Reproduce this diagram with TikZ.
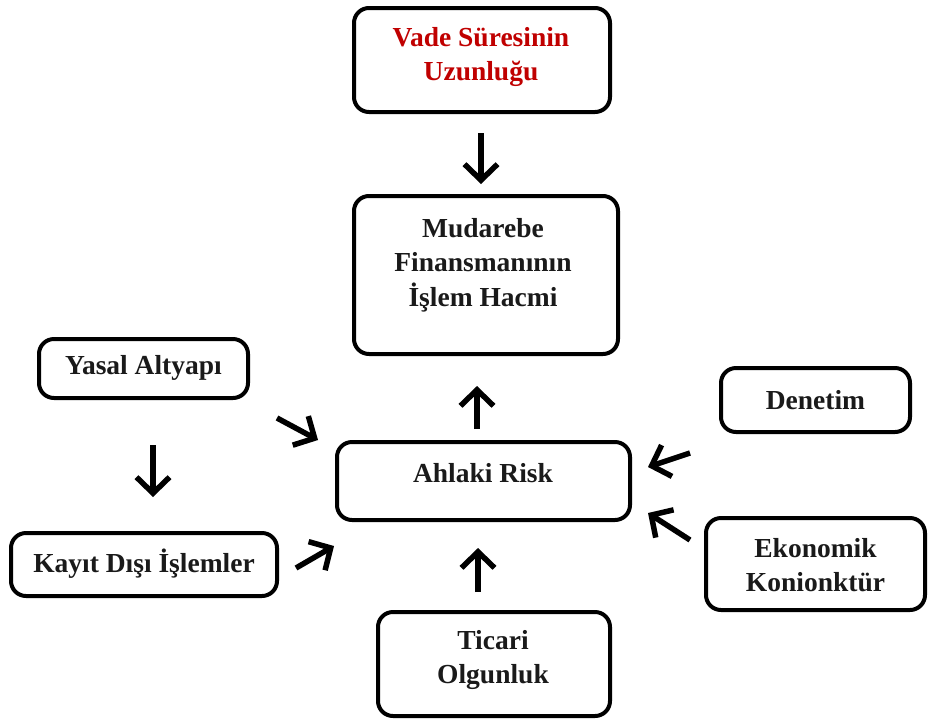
\documentclass[tikz,border=0pt]{standalone}
\usepackage{fontspec}
\setmainfont{Liberation Serif}
\usetikzlibrary{arrows.meta}
\definecolor{vadered}{HTML}{C00000}
\definecolor{ink}{HTML}{1A1A1A}
\begin{document}
\begin{tikzpicture}[x=1pt,y=-1pt,
  box/.style={draw=black, line width=4pt, rounded corners=15pt, inner sep=0pt, fill=white},
  lbl/.style={font=\fontsize{27.5}{34.5}\selectfont\bfseries, align=center, text=ink, inner sep=0pt},
  arr/.style={line width=5.5pt, -{Straight Barb[length=16pt,width=33pt,line width=5.5pt]}}]
\useasboundingbox[fill=white] (0,0) rectangle (929,724);

% boxes
\node[box, minimum width=256pt, minimum height=104pt] (vade) at (482,60) {};
\node[box, minimum width=264pt, minimum height=158pt] (mud) at (486,275) {};
\node[box, minimum width=209pt, minimum height=59pt] (yasal) at (143.5,368.5) {};
\node[box, minimum width=189pt, minimum height=64pt] (denet) at (815.5,400) {};
\node[box, minimum width=293pt, minimum height=78pt] (ahlak) at (483.5,481) {};
\node[box, minimum width=266pt, minimum height=63pt] (kayit) at (144,564.5) {};
\node[box, minimum width=219pt, minimum height=92pt] (ekon) at (815.5,564) {};
\node[box, minimum width=232pt, minimum height=104pt] (ticari) at (494,664) {};

% texts
\node[lbl, text=vadered] (tvade) at (481,57) {Vade Süresinin\\Uzunluğu};
\node[lbl] (tmud) at (483,265) {Mudarebe\\Finansmanının\\İşlem Hacmi};
\node[lbl] (tyasal) at (143.5,368) {Yasal Altyapı};
\node[lbl] (tdenet) at (815.5,400) {Denetim};
\node[lbl] (tahlak) at (483,473) {Ahlaki Risk};
\node[lbl] (tkayit) at (144,564) {Kayıt Dışı İşlemler};
\node[lbl] (tekon) at (815.5,565) {Ekonomik\\Konionktür};
\node[lbl] (tticari) at (493,660) {Ticari\\Olgunluk};

% arrow end points
\coordinate (a1s) at (481,133);  \coordinate (a1e) at (481,184);
\coordinate (a2s) at (477,429);  \coordinate (a2e) at (477,386);
\coordinate (a3s) at (153,445);  \coordinate (a3e) at (153,497);
\coordinate (a4s) at (277,418);  \coordinate (a4e) at (318,440);
\coordinate (a5s) at (296,568);  \coordinate (a5e) at (334,546);
\coordinate (a6s) at (690,453);  \coordinate (a6e) at (648,467);
\coordinate (a7s) at (690,540);  \coordinate (a7e) at (648,513);
\coordinate (a8s) at (478,592);  \coordinate (a8e) at (478,548);

\draw[arr] (a1s) -- (a1e);
\draw[arr] (a2s) -- (a2e);
\draw[arr] (a3s) -- (a3e);
\draw[arr] (a4s) -- (a4e);
\draw[arr] (a5s) -- (a5e);
\draw[arr] (a6s) -- (a6e);
\draw[arr] (a7s) -- (a7e);
\draw[arr] (a8s) -- (a8e);
\end{tikzpicture}
\end{document}
